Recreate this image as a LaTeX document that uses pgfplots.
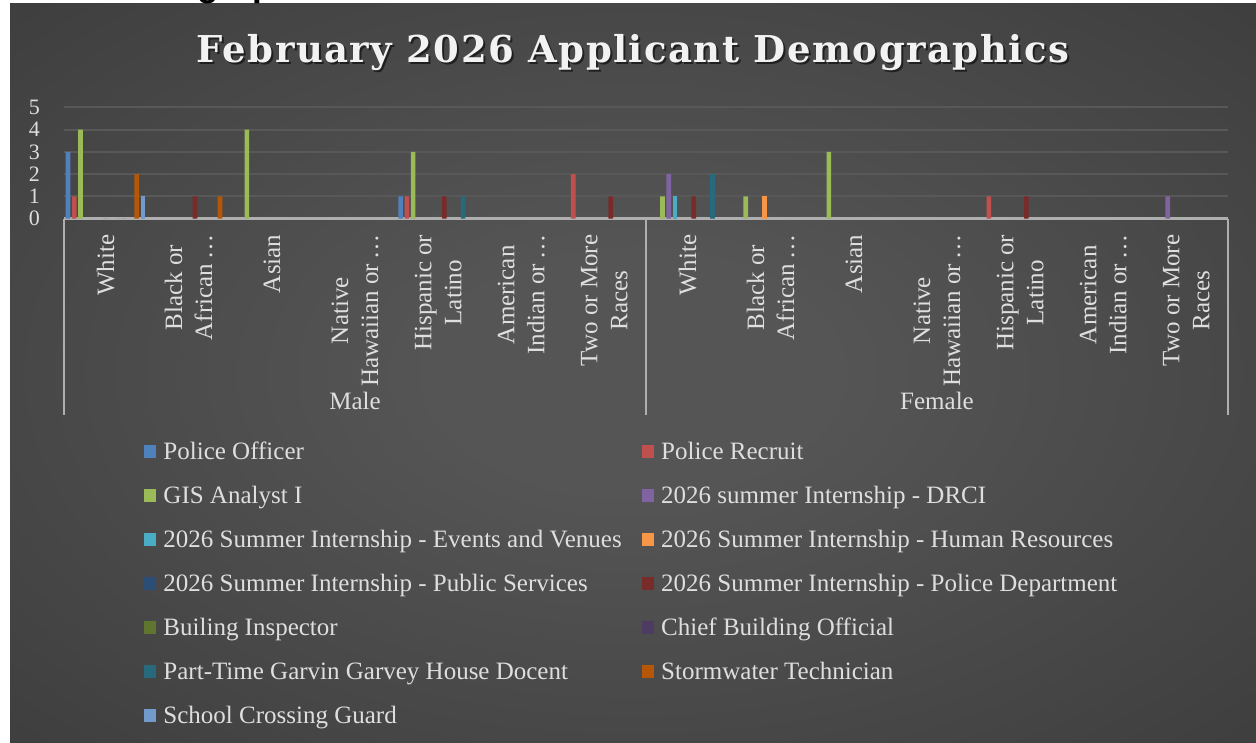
\documentclass[border=0pt]{standalone}
\usepackage{fontspec}
\setmainfont{Liberation Serif}
\newfontfamily\titlefont{DejaVu Serif}[LetterSpace=4.0]
\newfontfamily\headsans{Liberation Sans}
\usepackage{pgfplots}
\pgfplotsset{compat=1.18}
\definecolor{cA}{HTML}{4F81BD}
\definecolor{cB}{HTML}{C0504D}
\definecolor{cC}{HTML}{9BBB59}
\definecolor{cD}{HTML}{8064A2}
\definecolor{cE}{HTML}{4BACC6}
\definecolor{cF}{HTML}{F79646}
\definecolor{cG}{HTML}{2C4D75}
\definecolor{cH}{HTML}{772C2A}
\definecolor{cI}{HTML}{5F7530}
\definecolor{cJ}{HTML}{4D3B62}
\definecolor{cK}{HTML}{276A7C}
\definecolor{cL}{HTML}{B65708}
\definecolor{cM}{HTML}{729ACA}
\definecolor{bgin}{HTML}{555555}
\definecolor{bgout}{HTML}{222222}
\definecolor{gridc}{HTML}{585858}
\definecolor{axisc}{HTML}{AFAFAF}
\definecolor{labc}{HTML}{DEDEDE}
\definecolor{titlec}{HTML}{F2F2F2}
\pgfdeclareradialshading{bgshade}{\pgfpoint{0bp}{0bp}}{color(0bp)=(bgin); color(8bp)=(bgin); color(70bp)=(bgout)}
\begin{document}
\begin{tikzpicture}
\useasboundingbox (0,0) rectangle (1256pt,742pt);
\fill[white] (0,0) rectangle (1256pt,742pt);
\shade[shading=bgshade] (10pt,0pt) rectangle (1256pt,738pt);
\begin{scope}
\clip (0pt,738pt) rectangle (1256pt,742pt);
\node[anchor=base west, inner sep=0pt, text=black, font=\headsans\bfseries\fontsize{35}{40}\selectfont] at (176pt,745.5pt) {ographics};
\end{scope}
\node[anchor=base, inner sep=0pt, text=black, opacity=0.55, font=\titlefont\bfseries\fontsize{37}{44}\selectfont] at (635pt,677pt) {February 2026 Applicant Demographics};
\node[anchor=base, inner sep=0pt, text=titlec, font=\titlefont\bfseries\fontsize{37}{44}\selectfont] at (633pt,679pt) {February 2026 Applicant Demographics};
\begin{axis}[
  at={(64pt,523.5pt)}, anchor=south west,
  scale only axis, width=1164pt, height=111.1pt,
  xmin=-0.5, xmax=13.5, ymin=0, ymax=5,
  ybar=1.55pt, bar width=4.7pt,
  axis x line*=bottom, axis y line*=left,
  x axis line style={draw=axisc, line width=3pt, -},
  y axis line style={draw=none},
  major tick length=0pt,
  ytick={0,1,2,3,4,5},
  ymajorgrids, grid style={draw=gridc, line width=2pt},
  xtick={0,...,13},
  xticklabels={{White},{Black or\\African\,…},{Asian},{Native\\Hawaiian or\,…},{Hispanic or\\Latino},{American\\Indian or\,…},{Two or More\\Races},{White},{Black or\\African\,…},{Asian},{Native\\Hawaiian or\,…},{Hispanic or\\Latino},{American\\Indian or\,…},{Two or More\\Races}},
  xticklabel style={rotate=90, anchor=east, align=center, inner sep=0pt, font=\fontsize{25}{30}\selectfont, text=labc},
  xticklabel shift=16pt,
  yticklabel style={anchor=east, inner sep=0pt, font=\fontsize{22}{22}\selectfont, text=labc},
  yticklabel shift=24pt,
  /pgf/number format/assume math mode=true,
  clip=false,
  every axis plot/.append style={draw=none},
  legend columns=2,
  legend cell align=left,
  legend image code/.code={\fill[#1] (0pt,-3.5pt) rectangle (12.5pt,9.5pt);},
  legend style={
    at={(axis description cs:0.06873,-2.018)}, anchor=north west,
    draw=none, fill=none, inner sep=0pt, outer sep=0pt,
    font=\fontsize{25}{30}\selectfont, text=labc,
    row sep=21pt,
    nodes={inner sep=0pt, text height=17pt, text depth=6pt},
    /tikz/every odd column/.append style={column sep=7pt},
    /tikz/every even column/.append style={column sep=20pt},
  },
]
\addplot[fill=cA] coordinates {(0,3) (4,1)};
\addlegendentry{Police Officer}
\addplot[fill=cB] coordinates {(0,1) (4,1) (6,2) (11,1)};
\addlegendentry{Police Recruit}
\addplot[fill=cC] coordinates {(0,4) (2,4) (4,3) (7,1) (8,1) (9,3)};
\addlegendentry{GIS Analyst I}
\addplot[fill=cD] coordinates {(7,2) (13,1)};
\addlegendentry{2026 summer Internship - DRCI}
\addplot[fill=cE] coordinates {(7,1)};
\addlegendentry{2026 Summer Internship - Events and Venues}
\addplot[fill=cF] coordinates {(8,1)};
\addlegendentry{2026 Summer Internship - Human Resources}
\addplot[fill=cG] coordinates {(0,0)};
\addlegendentry{2026 Summer Internship - Public Services}
\addplot[fill=cH] coordinates {(1,1) (4,1) (6,1) (7,1) (11,1)};
\addlegendentry{2026 Summer Internship - Police Department}
\addplot[fill=cI] coordinates {(0,0)};
\addlegendentry{Builing Inspector}
\addplot[fill=cJ] coordinates {(0,0)};
\addlegendentry{Chief Building Official}
\addplot[fill=cK] coordinates {(4,1) (7,2)};
\addlegendentry{Part-Time Garvin Garvey House Docent}
\addplot[fill=cL] coordinates {(0,2) (1,1)};
\addlegendentry{Stormwater Technician}
\addplot[fill=cM] coordinates {(0,1)};
\addlegendentry{School Crossing Guard}
\draw[axisc, line width=2pt] (axis cs:-0.5,0) -- (axis cs:-0.5,-8.843);
\draw[axisc, line width=2pt] (axis cs:6.5,0) -- (axis cs:6.5,-8.843);
\draw[axisc, line width=2pt] (axis cs:13.5,0) -- (axis cs:13.5,-8.843);
\node[anchor=base, inner sep=0pt, text=labc, font=\fontsize{25}{30}\selectfont] at (axis cs:3,-8.587) {Male};
\node[anchor=base, inner sep=0pt, text=labc, font=\fontsize{25}{30}\selectfont] at (axis cs:10,-8.587) {Female};
\end{axis}
\end{tikzpicture}
\end{document}
